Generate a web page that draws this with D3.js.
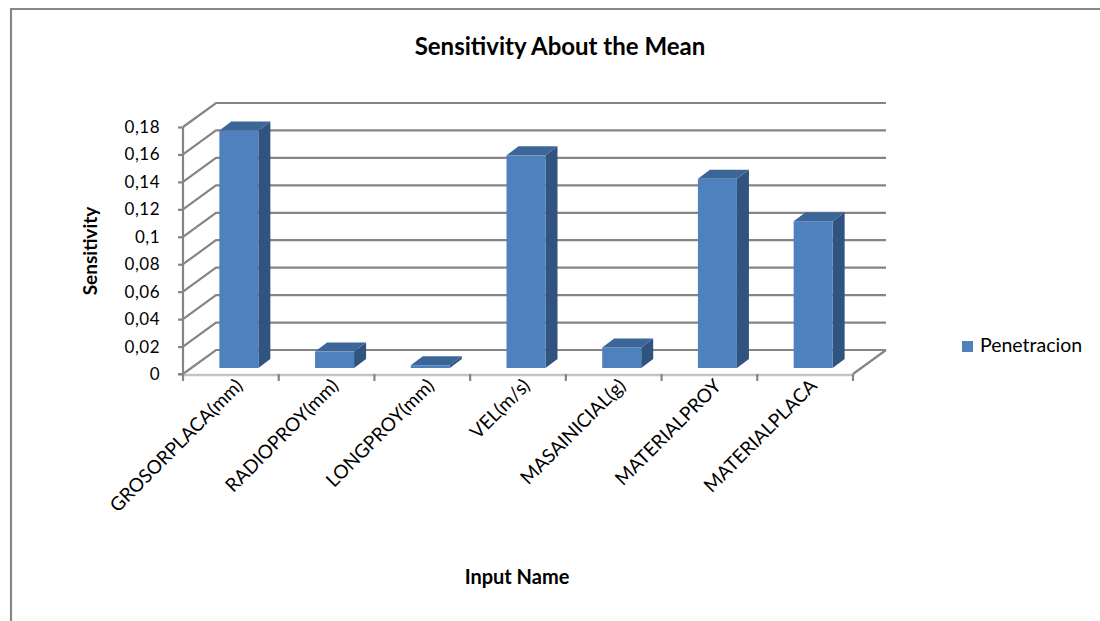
<!DOCTYPE html>
<html>
<head>
<meta charset="utf-8">
<script src="https://cdn.jsdelivr.net/npm/d3@7"></script>
<style>
  html, body { margin: 0; padding: 0; background: #fff; }
  svg { display: block; font-family: Lato, "Open Sans", sans-serif; }
</style>
</head>
<body>
<svg id="chart" width="1100" height="621"></svg>
<script>
// Sensitivity of penetration to each input, about the mean
const categories = ["GROSORPLACA(mm)", "RADIOPROY(mm)", "LONGPROY(mm)", "VEL(m/s)",
                    "MASAINICIAL(g)", "MATERIALPROY", "MATERIALPLACA"];
const penetracion = [0.173, 0.012, 0.002, 0.155, 0.015, 0.138, 0.107];
const yTicks = [0, 0.02, 0.04, 0.06, 0.08, 0.1, 0.12, 0.14, 0.16, 0.18];
const seriesName = "Penetracion";

const svg = d3.select("#chart");

// chart area border (open to the right and bottom)
svg.append("path")
  .attr("d", "M11,621 L11,9 L1100,9")
  .attr("fill", "none").attr("stroke", "#878787").attr("stroke-width", 2.2);

// oblique 3D frame: front plane + depth offset
const depth = { dx: 33, dy: -24 };
const x = d3.scaleBand().domain(categories).range([183, 853]).padding(0);
const y = d3.scaleLinear().domain([0, 0.18]).range([374, 127]);

const grid = svg.append("g").attr("fill", "none").attr("stroke", "#858585").attr("stroke-width", 2.2);
const [xL, xR] = x.range();
yTicks.forEach(t => {
  const yy = y(t);
  // side wall diagonal + back wall horizontal
  grid.append("path")
    .attr("d", `M${xL},${yy} L${xL + depth.dx},${yy + depth.dy} L${xR + depth.dx},${yy + depth.dy}`);
});
// floor right edge
grid.append("path")
  .attr("d", `M${xR},${y(0)} L${xR + depth.dx},${y(0) + depth.dy}`);

// front floor edge
svg.append("line")
  .attr("x1", xL).attr("x2", xR).attr("y1", y(0) + 1).attr("y2", y(0) + 1)
  .attr("stroke", "#c4c4c4").attr("stroke-width", 2.5);

// y axis
const yAxis = d3.axisLeft(y).tickValues(yTicks).tickSize(5).tickPadding(18)
  .tickFormat(d => d3.format("~g")(d).replace(".", ","));
const gy = svg.append("g").attr("transform", `translate(${xL},0)`).call(yAxis);
gy.select(".domain").attr("stroke", "#858585").attr("stroke-width", 2.2).attr("d", `M-5,${y(0)}H0V${y(0.18)}`);
gy.selectAll(".tick line").attr("stroke", "#858585").attr("stroke-width", 2.2);
gy.selectAll(".tick text").attr("font-size", 17).attr("fill", "#000")
  .attr("font-family", "Lato, sans-serif").attr("letter-spacing", 0.5);

// x axis: category boundary ticks below the front floor edge
const bounds = d3.range(categories.length + 1).map(i => xL + i * x.step());
svg.append("g").selectAll("line").data(bounds).join("line")
  .attr("x1", d => d).attr("x2", d => d)
  .attr("y1", y(0)).attr("y2", y(0) + 7)
  .attr("stroke", "#858585").attr("stroke-width", 2.2);

// category labels
svg.append("g").selectAll("text").data(categories).join("text")
  .attr("transform", d => `translate(${x(d) + x.bandwidth() / 2 + 13},${y(0) + 13}) rotate(-45)`)
  .attr("text-anchor", "end").attr("font-size", 19).attr("fill", "#000")
  .text(d => d);

// bars as oblique boxes
const barW = 39;
const off = { dx: 8, dy: -6 };      // front face sits a quarter of the way into the depth
const bd = { dx: 12, dy: -9 };      // bar depth
const colFront = "#4f81bd", colSide = "#31537f", colTop = "#3d6698";
const bars = svg.append("g").selectAll("g").data(penetracion).join("g");
bars.each(function (v, i) {
  const g = d3.select(this);
  const x0 = x(categories[i]) + x.bandwidth() / 2 - barW / 2 + off.dx;
  const x1 = x0 + barW;
  const yb = y(0) + off.dy;
  const yt = y(v) + off.dy;
  g.append("path").attr("fill", colSide)
    .attr("d", `M${x1},${yb} L${x1 + bd.dx},${yb + bd.dy} L${x1 + bd.dx},${yt + bd.dy} L${x1},${yt} Z`);
  g.append("path").attr("fill", colTop)
    .attr("d", `M${x0},${yt} L${x0 + bd.dx},${yt + bd.dy} L${x1 + bd.dx},${yt + bd.dy} L${x1},${yt} Z`);
  g.append("rect").attr("fill", colFront)
    .attr("x", x0).attr("y", yt).attr("width", barW).attr("height", yb - yt);
});

// titles
svg.append("text").attr("x", 560).attr("y", 55).attr("text-anchor", "middle")
  .attr("font-size", 24).attr("font-weight", "bold").text("Sensitivity About the Mean");
svg.append("text").attr("transform", "translate(97,251) rotate(-90)").attr("text-anchor", "middle")
  .attr("font-size", 19).attr("font-weight", "bold").text("Sensitivity");
svg.append("text").attr("x", 517).attr("y", 584).attr("text-anchor", "middle")
  .attr("font-size", 20).attr("font-weight", "bold").text("Input Name");

// legend
const lg = svg.append("g").attr("transform", "translate(962,341)");
lg.append("rect").attr("width", 11).attr("height", 11).attr("fill", colFront);
lg.append("text").attr("x", 18).attr("y", 11).attr("font-size", 19.5).text(seriesName);
</script>
</body>
</html>
